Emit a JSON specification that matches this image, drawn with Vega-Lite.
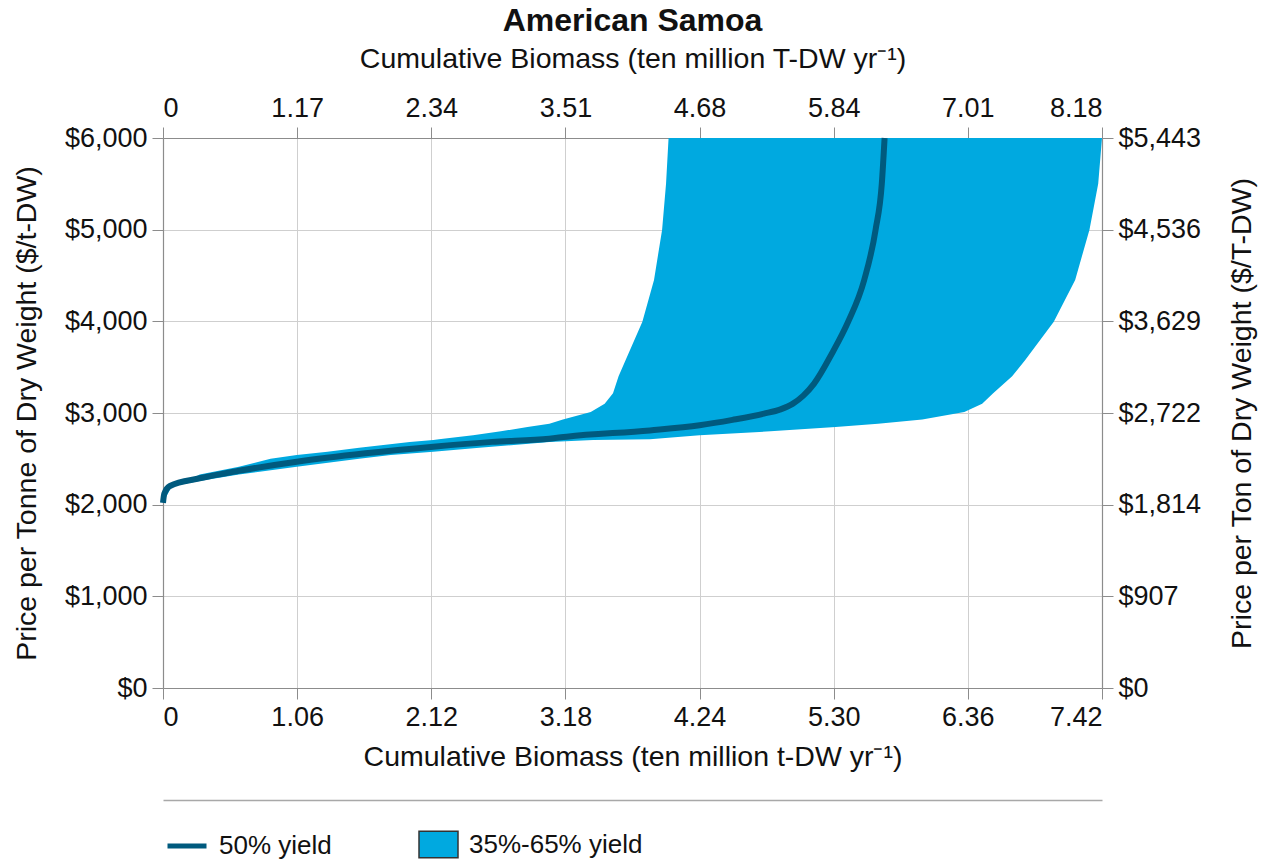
{
  "$schema": "https://vega.github.io/schema/vega-lite/v6.json",
  "width": 939,
  "height": 550,
  "autosize": "none",
  "padding": {"left": 163, "top": 138, "right": 165, "bottom": 173},
  "background": "white",
  "title": {"text": "American Samoa", "fontSize": 32, "font": "Liberation Sans", "fontWeight": "bold", "anchor": "middle", "offset": 6, "color": "#111"},
  "config": {
    "view": {"stroke": null},
    "font": "Liberation Sans",
    "axis": {
      "labelFont": "Liberation Sans", "labelFontSize": 27, "labelColor": "#111",
      "titleFont": "Liberation Sans", "titleFontSize": 28.5, "titleFontWeight": "normal", "titleColor": "#111",
      "domainColor": "#8c8c8c", "domainWidth": 1.2, "tickColor": "#8c8c8c", "tickSize": 11,
      "gridColor": "#cfcfcf", "gridWidth": 1, "labelPadding": 5
    },
    "legend": {"labelFont": "Liberation Sans", "labelFontSize": 26, "labelColor": "#111", "labelOffset": 10, "labelLimit": 400, "padding": 0, "symbolSize": 1521}
  },
  "datasets": {
    "band": [
      {"price": 2020, "left": 0, "right": 0},
      {"price": 2200, "left": 0.05, "right": 0.07},
      {"price": 2260, "left": 0.2, "right": 0.3},
      {"price": 2330, "left": 0.29, "right": 0.6},
      {"price": 2414, "left": 0.6, "right": 1.057},
      {"price": 2500, "left": 0.85, "right": 1.55},
      {"price": 2542, "left": 1.057, "right": 1.8},
      {"price": 2578, "left": 1.3, "right": 2.136},
      {"price": 2620, "left": 1.55, "right": 2.5},
      {"price": 2683, "left": 1.95, "right": 3.053},
      {"price": 2706, "left": 2.136, "right": 3.4},
      {"price": 2713, "left": 2.18, "right": 3.848},
      {"price": 2756, "left": 2.45, "right": 4.24},
      {"price": 2800, "left": 2.67, "right": 4.8},
      {"price": 2847, "left": 2.88, "right": 5.315},
      {"price": 2883, "left": 3.053, "right": 5.65},
      {"price": 2930, "left": 3.16, "right": 6.0},
      {"price": 3011, "left": 3.38, "right": 6.332},
      {"price": 3102, "left": 3.49, "right": 6.473},
      {"price": 3215, "left": 3.556, "right": 6.56},
      {"price": 3400, "left": 3.6, "right": 6.71},
      {"price": 3576, "left": 3.655, "right": 6.812},
      {"price": 3995, "left": 3.788, "right": 7.039},
      {"price": 4451, "left": 3.88, "right": 7.208},
      {"price": 5000, "left": 3.944, "right": 7.321},
      {"price": 5500, "left": 3.975, "right": 7.39},
      {"price": 6000, "left": 3.995, "right": 7.42}
    ],
    "median": [
      {"biomass": 0, "price": 2020},
      {"biomass": 0.01, "price": 2120},
      {"biomass": 0.055, "price": 2204},
      {"biomass": 0.29, "price": 2288},
      {"biomass": 0.6, "price": 2370},
      {"biomass": 1.057, "price": 2469},
      {"biomass": 1.6, "price": 2560},
      {"biomass": 2.136, "price": 2633},
      {"biomass": 2.6, "price": 2685},
      {"biomass": 3.053, "price": 2720},
      {"biomass": 3.19, "price": 2742},
      {"biomass": 3.848, "price": 2810},
      {"biomass": 4.24, "price": 2866},
      {"biomass": 4.5, "price": 2925},
      {"biomass": 4.749, "price": 2993},
      {"biomass": 4.88, "price": 3040},
      {"biomass": 4.975, "price": 3100},
      {"biomass": 5.06, "price": 3190},
      {"biomass": 5.145, "price": 3321},
      {"biomass": 5.286, "price": 3649},
      {"biomass": 5.414, "price": 3995},
      {"biomass": 5.541, "price": 4451},
      {"biomass": 5.631, "price": 5000},
      {"biomass": 5.68, "price": 5500},
      {"biomass": 5.702, "price": 6000}
    ]
  },
  "resolve": {"axis": {"x": "independent", "y": "independent"}, "scale": {"color": "independent"}, "legend": {"color": "independent"}},
  "layer": [
    {
      "data": {"name": "band"},
      "mark": {"type": "area", "orient": "horizontal", "opacity": 1},
      "encoding": {
        "y": {"field": "price", "type": "quantitative", "scale": {"domain": [0, 6000], "nice": false},
          "axis": {"orient": "left", "values": [0, 1000, 2000, 3000, 4000, 5000, 6000], "format": "$,.0f", "grid": true,
            "title": "Price per Tonne of Dry Weight ($/t-DW)", "titlePadding": 23}},
        "x": {"field": "left", "type": "quantitative", "scale": {"domain": [0, 7.42], "nice": false, "zero": false},
          "axis": {"orient": "bottom", "values": [0, 1.06, 2.12, 3.18, 4.24, 5.3, 6.36, 7.42], "grid": true,
            "labelExpr": "datum.value === 0 ? '0' : format(datum.value, '.2f')",
            "title": "Cumulative Biomass (ten million t-DW yr⁻¹)", "titlePadding": 12}},
        "x2": {"field": "right"},
        "color": {"datum": "35%-65% yield", "type": "nominal",
          "scale": {"domain": ["35%-65% yield"], "range": ["#00A9E0"]},
          "legend": {
            "orient": "none", "direction": "horizontal", "legendX": 255, "legendY": 686, "title": null,
            "symbolType": "M-1,-0.68L1,-0.68L1,0.68L-1,0.68Z", "symbolFillColor": "#00A9E0",
            "symbolStrokeColor": "#333333", "symbolStrokeWidth": 1.5, "symbolOpacity": 1
          }}
      }
    },
    {
      "data": {"name": "median"},
      "mark": {"type": "line", "strokeWidth": 6, "strokeCap": "butt", "interpolate": "monotone"},
      "encoding": {
        "x": {"field": "biomass", "type": "quantitative", "scale": {"domain": [0, 7.42], "nice": false, "zero": false},
          "axis": {"orient": "top", "values": [0, 1.06, 2.12, 3.18, 4.24, 5.3, 6.36, 7.42], "grid": false,
            "labelExpr": "['0','1.17','2.34','3.51','4.68','5.84','7.01','8.18'][round(datum.value/1.06)]",
            "title": "Cumulative Biomass (ten million T-DW yr⁻¹)", "titlePadding": 21}},
        "y": {"field": "price", "type": "quantitative", "scale": {"domain": [0, 6000], "nice": false},
          "axis": {"orient": "right", "values": [0, 1000, 2000, 3000, 4000, 5000, 6000], "grid": false,
            "labelExpr": "['$0','$907','$1,814','$2,722','$3,629','$4,536','$5,443'][round(datum.value/1000)]",
            "title": "Price per Ton of Dry Weight ($/T-DW)", "titleAngle": 270, "titlePadding": 56}},
        "color": {"datum": "50% yield", "type": "nominal",
          "scale": {"domain": ["50% yield"], "range": ["#005A7E"]},
          "legend": {
            "orient": "none", "direction": "horizontal", "legendX": 2, "legendY": 686, "title": null,
            "symbolType": "stroke", "symbolStrokeWidth": 5, "symbolOpacity": 1
          }}
      }
    },
    {
      "data": {"name": "median"},
      "mark": {"type": "line", "strokeOpacity": 0},
      "encoding": {
        "x": {"field": "biomass", "type": "quantitative", "scale": {"domain": [0, 7.42], "nice": false, "zero": false},
          "axis": {"orient": "bottom", "offset": 112, "domain": true, "domainColor": "#a8a8a8", "domainWidth": 1.5,
            "labels": false, "ticks": false, "grid": false, "title": null}},
        "y": {"field": "price", "type": "quantitative", "scale": {"domain": [0, 6000], "nice": false}, "axis": null}
      }
    }
  ]
}
